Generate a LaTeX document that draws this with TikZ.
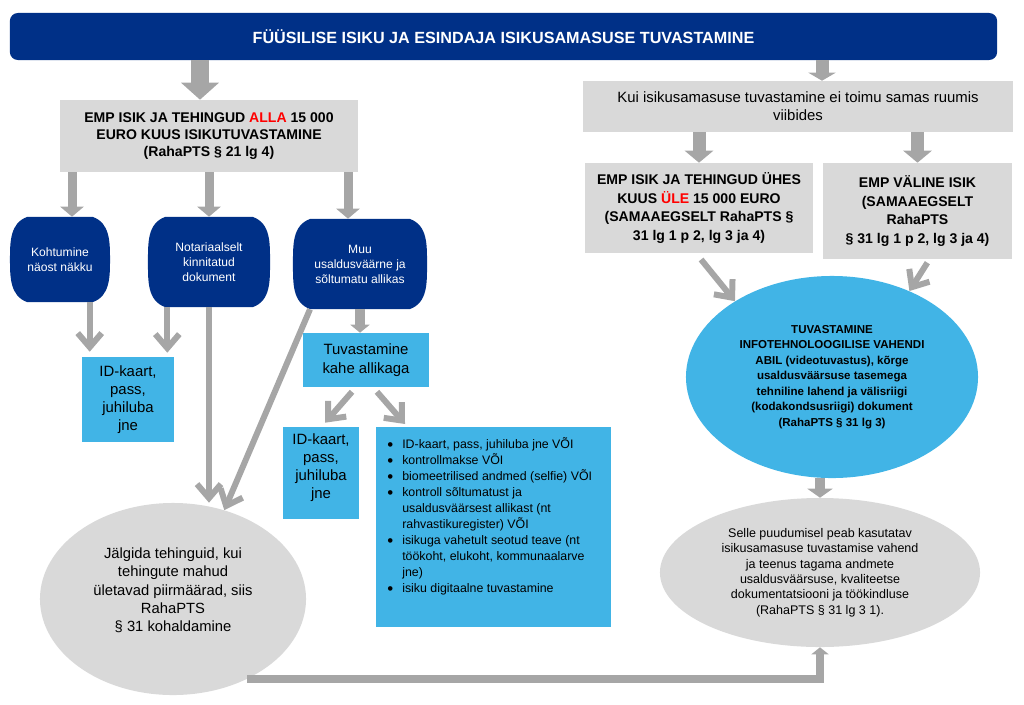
\documentclass[tikz,border=0pt]{standalone}
\usepackage{fontspec}
\setmainfont{Liberation Sans}
\usepackage{enumitem}
\usetikzlibrary{arrows.meta, shapes.geometric}
\definecolor{fiudark}{HTML}{003087}
\definecolor{fiusky}{HTML}{41B4E6}
\definecolor{fiugrey}{HTML}{D9D9D9}
\definecolor{fiuarrow}{HTML}{A6A6A6}
\definecolor{fiured}{HTML}{FF0000}
\newcommand{\fsz}[2]{\fontsize{#1}{#2}\selectfont}

\begin{document}
\begin{tikzpicture}[x=0.025cm, y=-0.025cm]
\tikzset{
  every node/.style={inner sep=0pt, align=center, text=black},
  grey box/.style={rectangle, fill=fiugrey},
  sky box/.style={rectangle, fill=fiusky},
  dark blob/.style={rectangle, fill=white, text=white, font=\fsz{8.6}{10.7},
    path picture={\fill[fiudark] ([xshift=0.425cm]path picture bounding box.north west)
      -- ([xshift=-0.425cm]path picture bounding box.north east) to[out=-20,in=90] (path picture bounding box.east)
      to[out=-90,in=20] ([xshift=-0.425cm]path picture bounding box.south east)
      -- ([xshift=0.425cm]path picture bounding box.south west) to[out=160,in=-90] (path picture bounding box.west)
      to[out=90,in=200] cycle;}},
  grey oval/.style={ellipse, fill=fiugrey},
  block arrow/.style n args={3}{draw=fiuarrow, line width=#1, -{Triangle[width=#2, length=#3]}},
  line arrow/.style={draw=fiuarrow, line width=0.15cm, -{Straight Barb[width=0.6cm, length=0.35cm]}},
}
\useasboundingbox (0,0) rectangle (1024,704);

\node[rectangle, rounded corners=0.2cm, fill=fiudark, text=white, minimum width=24.675cm, minimum height=1.175cm, font=\fsz{11.5}{14}\bfseries] (title) at (503.5,36.5) {FÜÜSILISE ISIKU JA ESINDAJA ISIKUSAMASUSE TUVASTAMINE};

\node[grey box, minimum width=7.45cm, minimum height=1.8cm, font=\fsz{10}{12}\bfseries] (alla) at (209,136) {EMP ISIK JA TEHINGUD \textcolor{fiured}{ALLA} 15 000\\EURO KUUS ISIKUTUVASTAMINE\\(RahaPTS § 21 lg 4)};
\node[dark blob, minimum width=2.5cm, minimum height=2.125cm] (meet) at (60,259.5) {Kohtumine\\näost näkku};
\node[dark blob, minimum width=3.05cm, minimum height=2.25cm] (notary) at (209,262) {Notariaalselt\\kinnitatud\\dokument};
\node[dark blob, minimum width=3.35cm, minimum height=2.25cm] (other) at (360,264) {Muu\\usaldusväärne ja\\sõltumatu allikas};
\node[sky box, minimum width=2.3cm, minimum height=2.125cm, font=\fsz{10.6}{12.8}] (idone) at (128,399.5) {ID-kaart,\\pass,\\juhiluba\\jne};
\node[sky box, minimum width=3.15cm, minimum height=1.35cm, font=\fsz{10.6}{13}] (twosrc) at (366,360) {Tuvastamine\\kahe allikaga};
\node[sky box, minimum width=1.9cm, minimum height=2.3cm, font=\fsz{10.6}{12.8}] (idtwo) at (321,473) {ID-kaart,\\pass,\\juhiluba\\jne\\[-0.1cm]};
\node[sky box, anchor=north west, inner xsep=0.275cm, inner ysep=0.25cm, font=\fsz{8.8}{11.4}] (means) at (376,427) {\begin{minipage}[t][4.5cm][t]{5.325cm}\raggedright
  \begin{itemize}[label={\raisebox{-1.6pt}{\fsz{12}{11.4}\textbullet}}, leftmargin=0.375cm, labelwidth=0.2cm, labelsep=0.175cm, align=left, itemsep=0pt, topsep=0pt, parsep=0pt, partopsep=0pt]
  \item ID-kaart, pass, juhiluba jne VÕI
  \item kontrollmakse VÕI
  \item biomeetrilised andmed (selfie) VÕI
  \item kontroll sõltumatust ja\newline usaldusväärsest allikast (nt\newline rahvastikuregister) VÕI
  \item isikuga vahetult seotud teave (nt\newline töökoht, elukoht, kommunaalarve\newline jne)
  \item isiku digitaalne tuvastamine
  \end{itemize}\end{minipage}};
\node[grey oval, minimum width=6.65cm, minimum height=4.8cm, font=\fsz{10.5}{13}] (watch) at (173,599) {Jälgida tehinguid, kui\\tehingute mahud\\ületavad piirmäärad, siis\\RahaPTS\\§ 31 kohaldamine\\[0pt]};

\node[grey box, minimum width=10.75cm, minimum height=1.275cm, font=\fsz{10.6}{13}] (remote) at (798,106.5) {Kui isikusamasuse tuvastamine ei toimu samas ruumis\\viibides};
\node[grey box, minimum width=5.7cm, minimum height=2.25cm, font=\fsz{10}{13.3}\bfseries] (ule) at (699,208) {EMP ISIK JA TEHINGUD ÜHES\\KUUS \textcolor{fiured}{ÜLE} 15 000 EURO\\(SAMAAEGSELT RahaPTS §\\31 lg 1 p 2, lg 3 ja 4)};
\node[grey box, minimum width=4.725cm, minimum height=2.4cm, font=\fsz{10}{13.3}\bfseries] (nonemp) at (917.5,211) {EMP VÄLINE ISIK\\(SAMAAEGSELT\\RahaPTS\\§ 31 lg 1 p 2, lg 3 ja 4)};
\node[ellipse, fill=fiusky, minimum width=7.3cm, minimum height=5.05cm, font=\fsz{8.2}{11}\bfseries] (video) at (832,377) {TUVASTAMINE\\INFOTEHNOLOOGILISE VAHENDI\\ABIL (videotuvastus), kõrge\\usaldusväärsuse tasemega\\tehniline lahend ja välisriigi\\(kodakondsusriigi) dokument\\(RahaPTS § 31 lg 3)};
\node[grey oval, minimum width=8cm, minimum height=3.725cm, font=\fsz{8.9}{10.9}] (fallback) at (820,572.5) {Selle puudumisel peab kasutatav\\isikusamasuse tuvastamise vahend\\ja teenus tagama andmete\\usaldusväärsuse, kvaliteetse\\dokumentatsiooni ja töökindluse\\(RahaPTS § 31 lg 3 1).};

\draw[block arrow={0.45cm}{0.925cm}{0.425cm}] ([xshift=-0.225cm]title.south -| alla.north) -- ([xshift=-0.225cm]alla.north);
\draw[block arrow={0.325cm}{0.675cm}{0.2cm}] ([xshift=0.6cm]title.south -| remote.north) -- ([xshift=0.6cm]remote.north);
\foreach \b/\s in {meet/0.3cm, notary/0cm, other/-0.3cm}
  \draw[block arrow={0.225cm}{0.575cm}{0.25cm}] ([xshift=\s]alla.south -| \b.north) -- ([xshift=\s]\b.north);
\draw[line arrow, shorten >=0.125cm] ([xshift=0.2cm]meet.south -| idone.north west) -- ([xshift=0.2cm]idone.north west);
\draw[line arrow, shorten >=0.1cm] ([xshift=-0.175cm]notary.south -| idone.north east) -- ([xshift=-0.175cm]idone.north east);
\draw[line arrow] (notary.south) -- (notary.south |- watch.north);
\draw[line arrow] ([xshift=-1.25cm]other.south) -- (watch.60);
\draw[block arrow={0.25cm}{0.475cm}{0.2cm}] (other.south) -- (other.south |- twosrc.north);
\draw[line arrow, shorten <=0.15cm] ([xshift=-0.25cm]twosrc.south) -- ([xshift=0.1cm,yshift=0.1cm]idtwo.north);
\draw[line arrow, shorten <=0.15cm] ([xshift=0.175cm]twosrc.south) -- ([xshift=0.725cm,yshift=0.075cm]means.north west);

\foreach \b in {ule, nonemp}
  \draw[block arrow={0.325cm}{0.7cm}{0.3cm}] (remote.south -| \b.north) -- (\b.north);
\draw[line arrow, shorten <=0.2cm] ([xshift=-0.075cm]ule.south) -- (video.142);
\draw[line arrow, shorten <=0.1cm] ([xshift=0.3cm]nonemp.south) -- (video.48);
\draw[block arrow={0.25cm}{0.625cm}{0.225cm}] (video.south -| fallback.north) -- (fallback.north);
\draw[block arrow={0.2cm}{0.425cm}{0.175cm}] (watch.-47) -| (fallback.south);
\end{tikzpicture}
\end{document}
